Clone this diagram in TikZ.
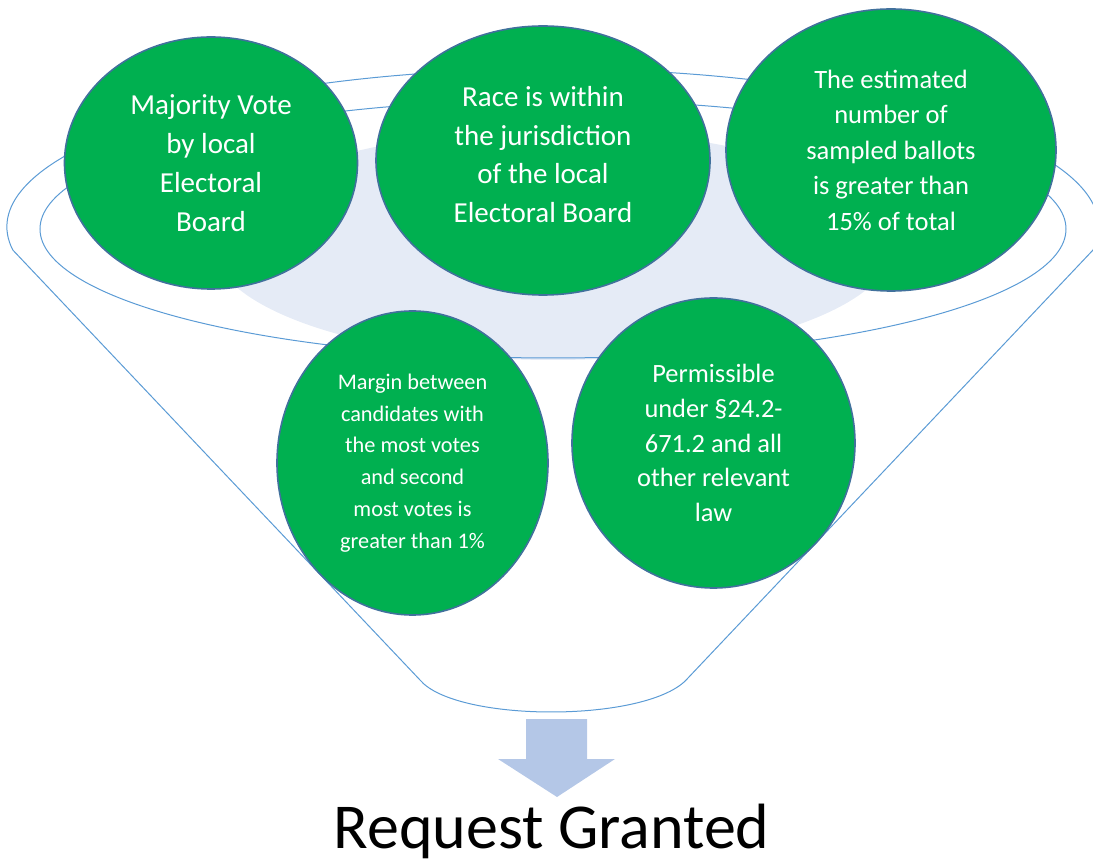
\documentclass[tikz,border=0pt]{standalone}
\usepackage{fontspec}
\setmainfont{Carlito}
\usetikzlibrary{shapes.geometric}

\definecolor{ballot}{HTML}{00B050}
\definecolor{ballotrim}{HTML}{41719C}
\definecolor{funnelline}{HTML}{5B9BD5}
\definecolor{funnelfill}{HTML}{E5EBF6}
\definecolor{arrowfill}{HTML}{B4C7E7}

\tikzset{
  crit/.style={ellipse, draw=ballotrim, line width=1.6pt, fill=ballot,
    text=white, inner sep=0pt, align=center},
  rim/.style={draw=funnelline, line width=1pt}
}

\begin{document}
\begin{tikzpicture}[x=1pt,y=1pt]
        \useasboundingbox (0,0) rectangle (1093,863);
        % funnel
        \fill[funnelfill] (553,618) ellipse [x radius=340, y radius=115];
        \draw[rim] (553,634) ellipse [x radius=513, y radius=129];
        \draw[rim] (12.8,613) arc [start angle=188.4, end angle=-8.4, x radius=546, y radius=158]
          -- (688,185) .. controls (650,140) and (456,140) .. (420,183) -- cycle;
        % criteria
        \node[crit, minimum width=293pt, minimum height=252pt, font=\fontsize{29}{39}\selectfont]
          (vote) at (211,700) {Majority Vote\\by local\\Electoral\\Board};
        \node[crit, minimum width=334pt, minimum height=269pt, text depth=12pt, font=\fontsize{29}{38.7}\selectfont]
          (race) at (543,702.5) {Race is within\\the jurisdiction\\of the local\\Electoral Board};
        \node[crit, minimum width=330pt, minimum height=282pt, font=\fontsize{26.5}{35.5}\selectfont]
          (ballots) at (891,713) {The estimated\\number of\\sampled ballots\\is greater than\\15\% of total};
        \node[crit, minimum width=271pt, minimum height=304pt, font=\fontsize{22.3}{31.7}\selectfont]
          (margin) at (412.5,400) {Margin between\\candidates with\\the most votes\\and second\\most votes is\\greater than 1\%};
        \node[crit, minimum width=283pt, minimum height=290pt, font=\fontsize{26.4}{34.6}\selectfont]
          (law) at (713.5,420) {Permissible\\under §24.2-\\671.2 and all\\other relevant\\law};
        % result
        \fill[arrowfill] (526,144) -- (587,144) -- (587,104) -- (615,104) -- (557,66)
          -- (498,104) -- (526,104) -- cycle;
        \node[font=\fontsize{64}{77}\selectfont, inner sep=0pt, anchor=base] (granted) at (551.5,15) {Request Granted};
      \end{tikzpicture}
\end{document}
